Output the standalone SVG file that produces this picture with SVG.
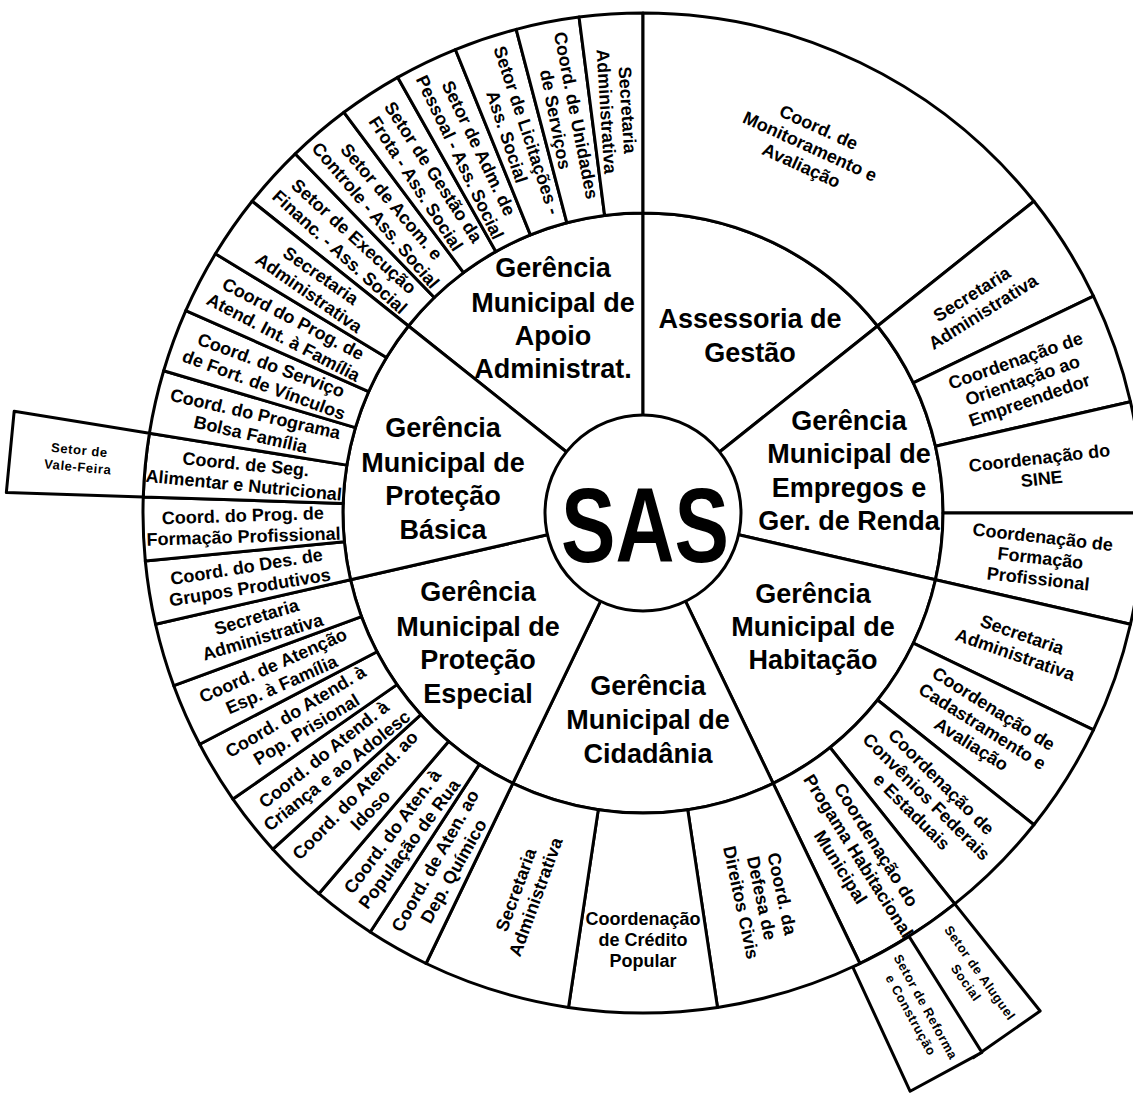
<svg xmlns="http://www.w3.org/2000/svg" width="1133" height="1093" viewBox="0 0 1133 1093">
<style>
.seg{fill:#fff;stroke:#000;stroke-width:3;stroke-linejoin:round}
text{font-family:"Liberation Sans",Arial,Helvetica,sans-serif;font-weight:700;fill:#000;text-anchor:middle}
.g{font-size:27px}
.o{font-size:18px}
.s{font-size:13px;letter-spacing:0.6px}
.sas{font-size:106px}
</style>
<defs>
<path id="w7" d="M300 0L500 0A500 500 0 0 1 495.895 63.939L297.537 38.363A300 300 0 0 0 300 0Z"/>
<path id="w12" d="M300 0L500 0A500 500 0 0 1 487.464 111.260L292.478 66.756A300 300 0 0 0 300 0Z"/>
<path id="w17" d="M300 0L500 0A500 500 0 0 1 477.788 147.378L286.673 88.427A300 300 0 0 0 300 0Z"/>
<path id="w51o" d="M300 0L500 0A500 500 0 0 1 311.745 390.916L187.047 234.549A300 300 0 0 0 300 0Z"/>
<path id="w51i" d="M97 0L300 0A300 300 0 0 1 187.047 234.549L60.479 75.838A97 97 0 0 0 97 0Z"/>
<path id="box" d="M500 0L637 0L631.772 81.458L495.895 63.939A500 500 0 0 0 500 0Z"/>
</defs>
<rect width="1133" height="1093" fill="#fff"/>
<g transform="translate(643 513)">

<!-- Gerências -->
<g id="ger-apoio"><use href="#w51i" class="seg" transform="rotate(218.571)"/>
<text class="g"><tspan x="-90" y="-236">Gerência</tspan><tspan x="-90" y="-201">Municipal de</tspan><tspan x="-90" y="-168">Apoio</tspan><tspan x="-90" y="-135">Administrat.</tspan></text></g>
<g id="ger-assessoria"><use href="#w51i" class="seg" transform="rotate(-90)"/>
<text class="g"><tspan x="107" y="-185">Assessoria de</tspan><tspan x="107" y="-151">Gestão</tspan></text></g>
<g id="ger-empregos"><use href="#w51i" class="seg" transform="rotate(-38.571)"/>
<text class="g"><tspan x="206" y="-83">Gerência</tspan><tspan x="206" y="-50">Municipal de</tspan><tspan x="206" y="-16">Empregos e</tspan><tspan x="206" y="17">Ger. de Renda</tspan></text></g>
<g id="ger-habitacao"><use href="#w51i" class="seg" transform="rotate(12.857)"/>
<text class="g"><tspan x="170" y="90">Gerência</tspan><tspan x="170" y="123">Municipal de</tspan><tspan x="170" y="156">Habitação</tspan></text></g>
<g id="ger-cidadania"><use href="#w51i" class="seg" transform="rotate(64.286)"/>
<text class="g"><tspan x="5" y="182">Gerência</tspan><tspan x="5" y="216">Municipal de</tspan><tspan x="5" y="250">Cidadânia</tspan></text></g>
<g id="ger-especial"><use href="#w51i" class="seg" transform="rotate(115.714)"/>
<text class="g"><tspan x="-165" y="88">Gerência</tspan><tspan x="-165" y="123">Municipal de</tspan><tspan x="-165" y="156">Proteção</tspan><tspan x="-165" y="190">Especial</tspan></text></g>
<g id="ger-basica"><use href="#w51i" class="seg" transform="rotate(167.143)"/>
<text class="g"><tspan x="-200" y="-76">Gerência</tspan><tspan x="-200" y="-41">Municipal de</tspan><tspan x="-200" y="-8">Proteção</tspan><tspan x="-200" y="26">Básica</tspan></text></g>

<!-- Apoio Administrativo -->
<g id="ap-execucao"><use href="#w7" class="seg" transform="rotate(218.571)"/>
<text class="o" transform="rotate(222.245) translate(400 0) rotate(180)"><tspan x="0" y="-4.2">Setor de Execução</tspan><tspan x="0" y="16.8">Financ. - Ass. Social</tspan></text></g>
<g id="ap-acom"><use href="#w7" class="seg" transform="rotate(225.918)"/>
<text class="o" transform="rotate(229.592) translate(400 0) rotate(180)"><tspan x="0" y="-4.2">Setor de Acom. e</tspan><tspan x="0" y="16.8">Controle - Ass. Social</tspan></text></g>
<g id="ap-frota"><use href="#w7" class="seg" transform="rotate(233.265)"/>
<text class="o" transform="rotate(236.939) translate(400 0) rotate(180)"><tspan x="0" y="-4.2">Setor de Gestão da</tspan><tspan x="0" y="16.8">Frota - Ass. Social</tspan></text></g>
<g id="ap-pessoal"><use href="#w7" class="seg" transform="rotate(240.612)"/>
<text class="o" transform="rotate(244.286) translate(400 0) rotate(180)"><tspan x="0" y="-4.2">Setor de Adm. de</tspan><tspan x="0" y="16.8">Pessoal - Ass. Social</tspan></text></g>
<g id="ap-licitacoes"><use href="#w7" class="seg" transform="rotate(247.959)"/>
<text class="o" transform="rotate(251.633) translate(400 0) rotate(180)"><tspan x="0" y="-4.2">Setor de Licitações -</tspan><tspan x="0" y="16.8">Ass. Social</tspan></text></g>
<g id="ap-unidades"><use href="#w7" class="seg" transform="rotate(255.306)"/>
<text class="o" transform="rotate(258.980) translate(403 0) rotate(180)"><tspan x="0" y="-4.2">Coord. de Unidades</tspan><tspan x="0" y="16.8">de Serviços</tspan></text></g>
<g id="ap-secretaria"><use href="#w7" class="seg" transform="rotate(262.653)"/>
<text class="o" transform="rotate(266.327) translate(403 0) rotate(180)"><tspan x="0" y="-4.2">Secretaria</tspan><tspan x="0" y="16.8">Administrativa</tspan></text></g>

<!-- Assessoria de Gestão -->
<g id="as-monitoramento"><use href="#w51o" class="seg" transform="rotate(-90)"/>
<text class="o" transform="rotate(-65.5) translate(403 0) rotate(90)"><tspan x="0" y="-14.7">Coord. de</tspan><tspan x="0" y="6.3">Monitoramento e</tspan><tspan x="0" y="27.3">Avaliação</tspan></text></g>

<!-- Empregos -->
<g id="em-secretaria"><use href="#w12" class="seg" transform="rotate(-38.571)"/>
<text class="o" transform="rotate(-32.143) translate(395 0)"><tspan x="0" y="-4.2">Secretaria</tspan><tspan x="0" y="16.8">Administrativa</tspan></text></g>
<g id="em-orientacao"><use href="#w12" class="seg" transform="rotate(-25.714)"/>
<text class="o" transform="rotate(-19.286) translate(402 0)"><tspan x="0" y="-14.7">Coordenação de</tspan><tspan x="0" y="6.3">Orientação ao</tspan><tspan x="0" y="27.3">Empreendedor</tspan></text></g>
<g id="em-sine"><use href="#w12" class="seg" transform="rotate(-12.857)"/>
<text class="o" transform="rotate(-6.429) translate(400 0)"><tspan x="0" y="-4.2">Coordenação do</tspan><tspan x="0" y="16.8">SINE</tspan></text></g>
<g id="em-formacao"><use href="#w12" class="seg" transform="rotate(0)"/>
<text class="o" transform="rotate(6.429) translate(400 0)"><tspan x="0" y="-14.7">Coordenação de</tspan><tspan x="0" y="6.3">Formação</tspan><tspan x="0" y="27.3">Profissional</tspan></text></g>

<!-- Habitação -->
<g id="ha-secretaria"><use href="#w12" class="seg" transform="rotate(12.857)"/>
<text class="o" transform="rotate(19.286) translate(398 0)"><tspan x="0" y="-4.2">Secretaria</tspan><tspan x="0" y="16.8">Administrativa</tspan></text></g>
<g id="ha-cadastramento"><use href="#w12" class="seg" transform="rotate(25.714)"/>
<text class="o" transform="rotate(32.143) translate(401 0)"><tspan x="0" y="-14.7">Coordenação de</tspan><tspan x="0" y="6.3">Cadastramento e</tspan><tspan x="0" y="27.3">Avaliação</tspan></text></g>
<g id="ha-convenios"><use href="#w12" class="seg" transform="rotate(38.571)"/>
<text class="o" transform="rotate(45) translate(401 0)"><tspan x="0" y="-14.7">Coordenação de</tspan><tspan x="0" y="6.3">Convênios Federais</tspan><tspan x="0" y="27.3">e Estaduais</tspan></text></g>
<g id="ha-programa"><use href="#w12" class="seg" transform="rotate(51.429)"/>
<text class="o" transform="rotate(57.857) translate(405 0)"><tspan x="0" y="-14.7">Coordenação do</tspan><tspan x="0" y="6.3">Progama Habitacional</tspan><tspan x="0" y="27.3">Municipal</tspan></text></g>
<g id="ha-aluguel"><use href="#box" class="seg" transform="rotate(51.429)"/>
<text class="s" transform="rotate(54.643) translate(570 0)"><tspan x="0" y="-4.1">Setor de Aluguel</tspan><tspan x="0" y="12.9">Social</tspan></text></g>
<g id="ha-reforma"><use href="#box" class="seg" transform="rotate(57.857)"/>
<text class="s" transform="rotate(61.071) translate(569 0)"><tspan x="0" y="-4.1">Setor de Reforma</tspan><tspan x="0" y="12.9">e Construção</tspan></text></g>

<!-- Cidadânia -->
<g id="ci-direitos"><use href="#w17" class="seg" transform="rotate(64.286)"/>
<text class="o" transform="rotate(72.857) translate(403 0) rotate(5)"><tspan x="0" y="-14.7">Coord. da</tspan><tspan x="0" y="6.3">Defesa de</tspan><tspan x="0" y="27.3">Direitos Civis</tspan></text></g>
<g id="ci-credito"><use href="#w17" class="seg" transform="rotate(81.429)"/>
<text class="o" transform="rotate(90) translate(427 0) rotate(-90)"><tspan x="0" y="-14.7">Coordenação</tspan><tspan x="0" y="6.3">de Crédito</tspan><tspan x="0" y="27.3">Popular</tspan></text></g>
<g id="ci-secretaria"><use href="#w17" class="seg" transform="rotate(98.571)"/>
<text class="o" transform="rotate(107.143) translate(398 0) rotate(183)"><tspan x="0" y="-4.2">Secretaria</tspan><tspan x="0" y="16.8">Administrativa</tspan></text></g>

<!-- Proteção Especial -->
<g id="es-quimico"><use href="#w7" class="seg" transform="rotate(115.714)"/>
<text class="o" transform="rotate(119.388) translate(405 0) rotate(180)"><tspan x="0" y="-4.2">Coord. de Aten. ao</tspan><tspan x="0" y="16.8">Dep. Químico</tspan></text></g>
<g id="es-rua"><use href="#w7" class="seg" transform="rotate(123.061)"/>
<text class="o" transform="rotate(126.735) translate(405 0) rotate(180)"><tspan x="0" y="-4.2">Coord. do Aten. à</tspan><tspan x="0" y="16.8">População de Rua</tspan></text></g>
<g id="es-idoso"><use href="#w7" class="seg" transform="rotate(130.408)"/>
<text class="o" transform="rotate(134.082) translate(403 0) rotate(180)"><tspan x="0" y="-4.2">Coord. do Atend. ao</tspan><tspan x="0" y="16.8">Idoso</tspan></text></g>
<g id="es-crianca"><use href="#w7" class="seg" transform="rotate(137.755)"/>
<text class="o" transform="rotate(141.429) translate(400 0) rotate(180)"><tspan x="0" y="-4.2">Coord. do Atend. à</tspan><tspan x="0" y="16.8">Criança e ao Adolesc</tspan></text></g>
<g id="es-prisional"><use href="#w7" class="seg" transform="rotate(145.102)"/>
<text class="o" transform="rotate(148.776) translate(400 0) rotate(180)"><tspan x="0" y="-4.2">Coord. do Atend. à</tspan><tspan x="0" y="16.8">Pop. Prisional</tspan></text></g>
<g id="es-familia"><use href="#w7" class="seg" transform="rotate(152.449)"/>
<text class="o" transform="rotate(156.122) translate(400 0) rotate(180)"><tspan x="0" y="-4.2">Coord. de Atenção</tspan><tspan x="0" y="16.8">Esp. à Família</tspan></text></g>
<g id="es-secretaria"><use href="#w7" class="seg" transform="rotate(159.796)"/>
<text class="o" transform="rotate(163.469) translate(400 0) rotate(180)"><tspan x="0" y="-4.2">Secretaria</tspan><tspan x="0" y="16.8">Administrativa</tspan></text></g>

<!-- Proteção Básica -->
<g id="ba-grupos"><use href="#w7" class="seg" transform="rotate(167.143)"/>
<text class="o" transform="rotate(170.816) translate(400 0) rotate(180)"><tspan x="0" y="-4.2">Coord. do Des. de</tspan><tspan x="0" y="16.8">Grupos Produtivos</tspan></text></g>
<g id="ba-formacao"><use href="#w7" class="seg" transform="rotate(174.490)"/>
<text class="o" transform="rotate(178.163) translate(400 0) rotate(180)"><tspan x="0" y="-4.2">Coord. do Prog. de</tspan><tspan x="0" y="16.8">Formação Profissional</tspan></text></g>
<g id="ba-alimentar"><use href="#w7" class="seg" transform="rotate(181.837)"/>
<text class="o" transform="rotate(185.510) translate(400 0) rotate(180)"><tspan x="0" y="-4.2">Coord. de Seg.</tspan><tspan x="0" y="16.8">Alimentar e Nutricional</tspan></text></g>
<g id="ba-valefeira"><use href="#box" class="seg" transform="rotate(181.837)"/>
<text class="s" transform="rotate(185.510) translate(567 0) rotate(180)"><tspan x="0" y="-4.1">Setor de</tspan><tspan x="0" y="12.9">Vale-Feira</tspan></text></g>
<g id="ba-bolsa"><use href="#w7" class="seg" transform="rotate(189.184)"/>
<text class="o" transform="rotate(192.857) translate(400 0) rotate(180)"><tspan x="0" y="-4.2">Coord. do Programa</tspan><tspan x="0" y="16.8">Bolsa Família</tspan></text></g>
<g id="ba-vinculos"><use href="#w7" class="seg" transform="rotate(196.531)"/>
<text class="o" transform="rotate(200.204) translate(400 0) rotate(180)"><tspan x="0" y="-4.2">Coord. do Serviço</tspan><tspan x="0" y="16.8">de Fort. de Vínculos</tspan></text></g>
<g id="ba-paif"><use href="#w7" class="seg" transform="rotate(203.878)"/>
<text class="o" transform="rotate(207.551) translate(400 0) rotate(180)"><tspan x="0" y="-4.2">Coord do Prog. de</tspan><tspan x="0" y="16.8">Atend. Int. à Família</tspan></text></g>
<g id="ba-secretaria"><use href="#w7" class="seg" transform="rotate(211.224)"/>
<text class="o" transform="rotate(214.898) translate(400 0) rotate(180)"><tspan x="0" y="-4.2">Secretaria</tspan><tspan x="0" y="16.8">Administrativa</tspan></text></g>

<!-- SAS -->
<g id="sas"><circle r="98" class="seg"/>
<text class="sas" transform="translate(2 49) scale(0.77 1)">SAS</text></g>
</g>
</svg>
